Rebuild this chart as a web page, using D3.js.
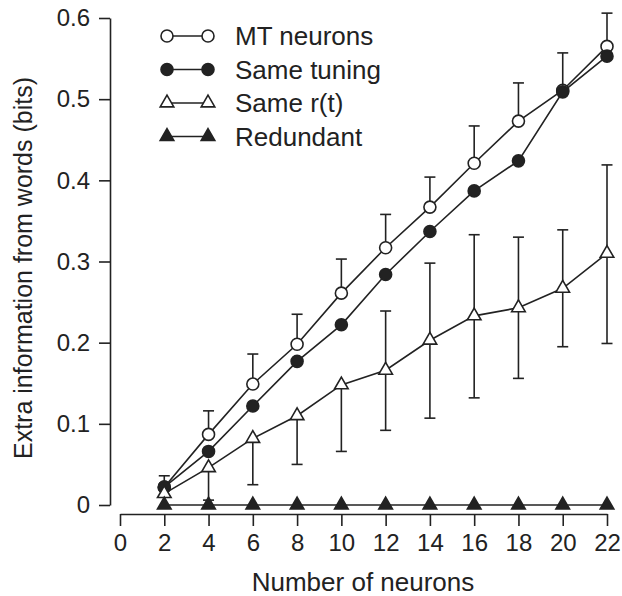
<!DOCTYPE html>
<html>
<head>
<meta charset="utf-8">
<script src="https://cdn.jsdelivr.net/npm/d3@7"></script>
<style>
  body { margin: 0; background: #fff; }
  svg { display: block; font-family: "Liberation Sans", Arial, sans-serif; }
</style>
</head>
<body>
<div id="chart"></div>
<script>
// data
const neurons = [2, 4, 6, 8, 10, 12, 14, 16, 18, 20, 22];
const mtNeurons = [0.022, 0.087, 0.149, 0.198, 0.261, 0.317, 0.367, 0.421, 0.473, 0.511, 0.565];
const mtUpper = [0.036, 0.116, 0.186, 0.235, 0.303, 0.358, 0.404, 0.467, 0.520, 0.557, 0.606];
const sameTuning = [0.022, 0.066, 0.122, 0.177, 0.222, 0.284, 0.337, 0.387, 0.424, 0.509, 0.553];
const sameRt = [0.014, 0.046, 0.082, 0.110, 0.148, 0.166, 0.203, 0.233, 0.243, 0.267, 0.310];
const sameRtUpper = [null, null, null, null, null, 0.239, 0.298, 0.333, 0.330, 0.339, 0.419];
const sameRtLower = [null, 0.006, 0.025, 0.050, 0.066, 0.092, 0.107, 0.132, 0.156, 0.195, 0.199];
const redundant = [0, 0, 0, 0, 0, 0, 0, 0, 0, 0, 0];
const xTicks = [0, 2, 4, 6, 8, 10, 12, 14, 16, 18, 20, 22];
const yTicks = [0, 0.1, 0.2, 0.3, 0.4, 0.5, 0.6];
const seriesNames = ["MT neurons", "Same tuning", "Same r(t)", "Redundant"];

(function () {
  const width = 622;
  const height = 596;

  const svg = d3
    .select("#chart")
    .append("svg")
    .attr("width", width)
    .attr("height", height);

  const x = d3.scaleLinear().domain([0, 22]).range([120, 607]);
  const y = d3.scaleLinear().domain([0, 0.6]).range([505, 18]);

  const tickFont = "24px";
  const labelFont = "26px";

  // axes
  svg.append("g")
    .attr("transform", "translate(110,0)")
    .call(d3.axisLeft(y).tickValues(yTicks).tickSizeInner(11).tickSizeOuter(0).tickPadding(9)
      .tickFormat((d) => (d === 0 ? "0" : d3.format(".1f")(d))))
    .call((g) => g.selectAll("path, line").attr("stroke", "#222").attr("stroke-width", 1.6))
    .call((g) => g.selectAll(".tick text").attr("font-size", tickFont).attr("fill", "#222").attr("font-family", null));

  svg.append("g")
    .attr("transform", "translate(0,514)")
    .call(d3.axisBottom(x).tickValues(xTicks).tickSizeInner(12).tickSizeOuter(0).tickPadding(8))
    .call((g) => g.selectAll("path, line").attr("stroke", "#222").attr("stroke-width", 1.6))
    .call((g) => g.selectAll(".tick text").attr("font-size", tickFont).attr("fill", "#222").attr("font-family", null));

  svg.append("text")
    .attr("x", 363)
    .attr("y", 591)
    .attr("text-anchor", "middle")
    .attr("font-size", labelFont)
    .attr("fill", "#222")
    .text("Number of neurons");

  svg.append("text")
    .attr("transform", "translate(32,268) rotate(-90)")
    .attr("text-anchor", "middle")
    .attr("font-size", "25px")
    .attr("fill", "#222")
    .text("Extra information from words (bits)");

  const line = d3.line().x((d) => x(d[0])).y((d) => y(d[1]));
  const tri = d3.symbol().type(d3.symbolTriangle).size(80);
  const capW = 5.5;

  const plot = svg.append("g");

  function errorBars(vals, ends) {
    const bars = neurons
      .map((n, i) => ({ n: n, v: vals[i], e: ends[i] }))
      .filter((d) => d.e != null);
    const g = plot.append("g").attr("stroke", "#222").attr("stroke-width", 1.6);
    g.selectAll(".stem").data(bars).enter().append("line")
      .attr("x1", (d) => x(d.n)).attr("x2", (d) => x(d.n))
      .attr("y1", (d) => y(d.v)).attr("y2", (d) => y(d.e));
    g.selectAll(".cap").data(bars).enter().append("line")
      .attr("x1", (d) => x(d.n) - capW).attr("x2", (d) => x(d.n) + capW)
      .attr("y1", (d) => y(d.e)).attr("y2", (d) => y(d.e));
  }

  function series(vals, marker, fill) {
    const pts = neurons.map((n, i) => [n, vals[i]]);
    plot.append("path")
      .datum(pts)
      .attr("fill", "none")
      .attr("stroke", "#222")
      .attr("stroke-width", 1.6)
      .attr("d", line);
    const g = plot.append("g");
    if (marker === "circle") {
      g.selectAll("circle").data(pts).enter().append("circle")
        .attr("cx", (d) => x(d[0])).attr("cy", (d) => y(d[1])).attr("r", 6)
        .attr("fill", fill).attr("stroke", "#222").attr("stroke-width", 1.6);
    } else {
      g.selectAll("path").data(pts).enter().append("path")
        .attr("d", tri)
        .attr("transform", (d) => `translate(${x(d[0])},${y(d[1])})`)
        .attr("fill", fill).attr("stroke", "#222").attr("stroke-width", 1.6);
    }
  }

  errorBars(mtNeurons, mtUpper);
  errorBars(sameRt, sameRtUpper);
  errorBars(sameRt, sameRtLower);
  series(mtNeurons, "circle", "#fff");
  series(sameTuning, "circle", "#222");
  series(sameRt, "triangle", "#fff");
  series(redundant, "triangle", "#222");

  // legend
  const legendRows = [
    { name: seriesNames[0], marker: "circle", fill: "#fff" },
    { name: seriesNames[1], marker: "circle", fill: "#222" },
    { name: seriesNames[2], marker: "triangle", fill: "#fff" },
    { name: seriesNames[3], marker: "triangle", fill: "#222" }
  ];

  const legend = svg.append("g").attr("transform", "translate(167,36)");
  const items = legend.selectAll(".legend-item").data(legendRows).enter().append("g")
    .attr("class", "legend-item")
    .attr("transform", (d, i) => `translate(0,${i * 33.5})`);

  items.append("line")
    .attr("x1", 0).attr("x2", 41)
    .attr("stroke", "#222").attr("stroke-width", 1.6);

  items.each(function (d) {
    const g = d3.select(this);
    [0, 41].forEach((px) => {
      if (d.marker === "circle") {
        g.append("circle").attr("cx", px).attr("cy", 0).attr("r", 6)
          .attr("fill", d.fill).attr("stroke", "#222").attr("stroke-width", 1.6);
      } else {
        g.append("path").attr("d", tri).attr("transform", `translate(${px},0)`)
          .attr("fill", d.fill).attr("stroke", "#222").attr("stroke-width", 1.6);
      }
    });
  });

  items.append("text")
    .attr("x", 68)
    .attr("dy", "0.36em")
    .attr("font-size", labelFont)
    .attr("fill", "#222")
    .text((d) => d.name);
})();
</script>
</body>
</html>
